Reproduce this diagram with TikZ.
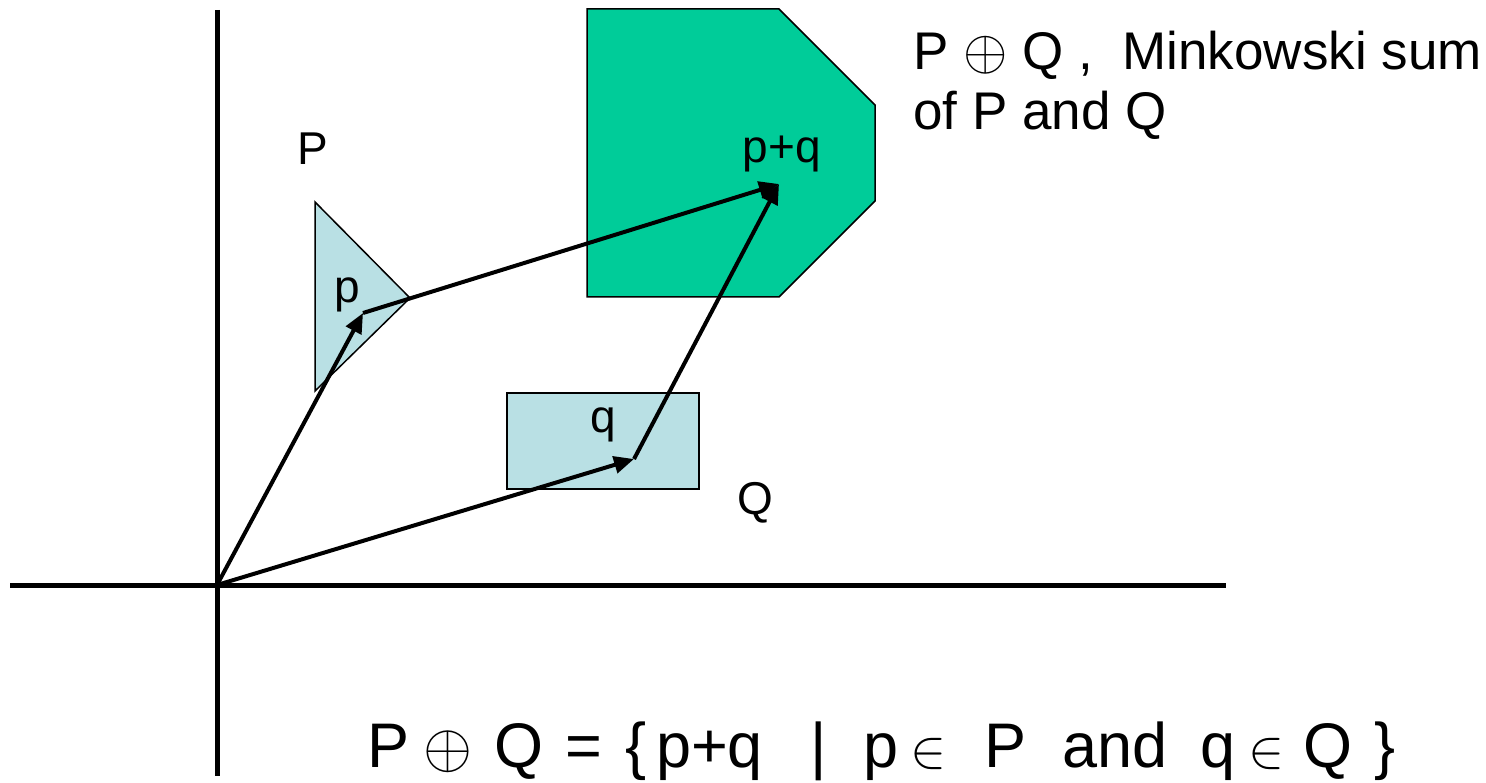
\RequirePackage{fix-cm}
\documentclass[tikz,border=0pt]{standalone}
\usepackage{fontspec}
\setmainfont{Liberation Sans}
\usetikzlibrary{arrows.meta}
\definecolor{lblue}{RGB}{185,224,228}
\definecolor{mgreen}{RGB}{0,204,153}
\newcommand{\osumT}{{\fontsize{57}{57}\selectfont$\oplus$}}
\newcommand{\osumL}{{\fontsize{63}{63}\selectfont$\oplus$}}
\newcommand{\elemL}{{\fontsize{54}{54}\selectfont$\in$}}
\tikzset{
  axis/.style={line width=5pt},
  polyg/.style={draw=black, line width=1.5pt},
  vec/.style={line width=4pt, -{Triangle[length=20pt,width=17pt]}},
  lbl/.style={inner sep=0pt, font=\fontsize{46}{52}\selectfont},
  ttl/.style={inner sep=0pt, anchor=base west, font=\fontsize{53}{60}\selectfont},
}
\begin{document}
\begin{tikzpicture}[x=1pt,y=-1pt]
\useasboundingbox (0,0) rectangle (1486,783);
% axes
\coordinate (ytop) at (217,10);
\coordinate (ybot) at (217,776);
\coordinate (xl) at (10,585);
\coordinate (xr) at (1226,585);
\coordinate (O) at (217,585);
\draw[axis] (ytop) -- (ybot);
\draw[axis] (xl) -- (xr);
% shapes
\draw[polyg, fill=lblue] (315,202) -- (410,298) -- (315,391) -- cycle;
\draw[polyg, fill=lblue] (507,393) rectangle (699,489);
\draw[polyg, fill=mgreen] (587,9) -- (779,9) -- (875,105) -- (875,201) -- (779,297) -- (587,297) -- cycle;
% points
\coordinate (p) at (363,313);
\coordinate (q) at (634,459);
\coordinate (pq) at (779,184);
\draw[vec] (O) -- (p);
\draw[vec] (O) -- (q);
\draw[vec] (p) -- (pq);
\draw[vec] (q) -- (pq);
% labels
\node[lbl, anchor=base] (Pl) at (313,165) {P};
\node[lbl, anchor=base] (pl) at (347,303) {p};
\node[lbl, anchor=base] (ql) at (603,432) {q};
\node[lbl, anchor=base] (Ql) at (755,514) {Q};
\node[lbl, anchor=base] (pql) at (782,163) {p+q};
\node[ttl] (t1) at (913,70) {P \osumT{} Q ,\ \ Minkowski sum};
\node[ttl] (t2) at (913,130) {of P and Q};
\node[inner sep=0pt, anchor=base west, font=\fontsize{63}{63}\selectfont] (f) at (367,767) {P\hspace{14.5pt}\osumL\hspace{21.5pt}Q\hspace{22pt}=\hspace{23pt}\{\hspace{10pt}p+q\hspace{48pt}|\hspace{36.6pt}p\hspace{11.5pt}\elemL\hspace{38.5pt}P\hspace{35.7pt}and\hspace{33pt}q\hspace{12.7pt}\elemL\hspace{19pt}Q\hspace{22pt}\}};
\end{tikzpicture}
\end{document}
